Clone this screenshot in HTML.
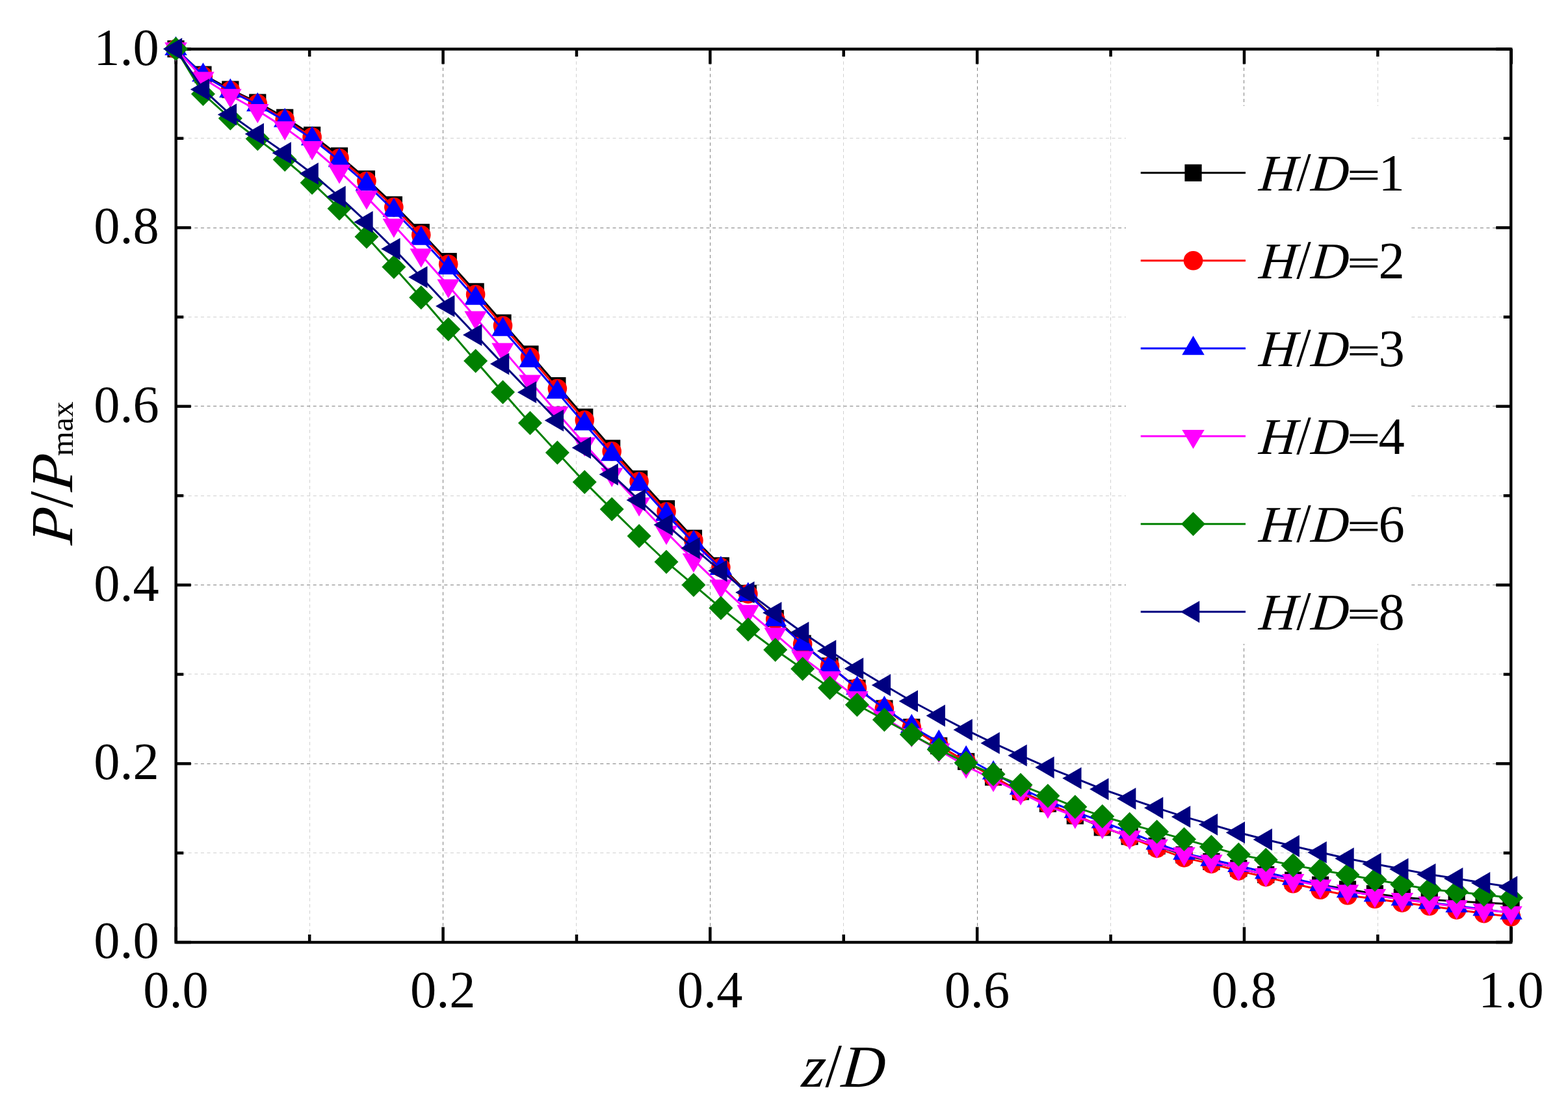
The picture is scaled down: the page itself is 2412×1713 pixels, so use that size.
<!DOCTYPE html>
<html lang="en"><head><meta charset="utf-8"><title>P/Pmax vs z/D</title>
<style>html,body{margin:0;padding:0;background:#fff;}body{width:2412px;height:1713px;overflow:hidden;}svg{display:block;}text,.t{font-family:"Liberation Serif","DejaVu Serif",serif;fill:#000;color:#000;}#c{position:relative;width:2412px;height:1713px;overflow:hidden;}.t{position:absolute;left:0;top:0;margin:0;white-space:nowrap;line-height:0;transform-origin:0 0;}.t i{display:inline-block;font-style:italic;transform-origin:0 0.3374em;transform:skewX(-5.5deg);}.l i{font-size:0.983em;}.t b{display:inline-block;font-weight:normal;transform-origin:0 0.3374em;transform:translateX(0.02em) scaleY(1.05);}.t u{display:inline-block;text-decoration:none;margin-right:0.035em;-webkit-text-stroke:1.3px #000;transform-origin:50% 0;transform:translate(0.03em,0.032em) scale(1.1,0.66);}.t sub{font-size:48.6px;vertical-align:baseline;position:relative;top:1px;margin-left:0px;}</style></head><body><div id="c">
<svg width="2412" height="1713" viewBox="0 0 2412 1713">
<rect x="0" y="0" width="2412" height="1713" fill="#fff"/>
<g fill="none" stroke-width="1" stroke-dasharray="5 4.6">
<line x1="476.5" y1="75.2" x2="476.5" y2="1448.8" stroke="#d0d0d0"/>
<line x1="270.5" y1="1311.5" x2="2324.5" y2="1311.5" stroke="#d0d0d0"/>
<line x1="681.5" y1="75.2" x2="681.5" y2="1448.8" stroke="#808080"/>
<line x1="270.5" y1="1174.5" x2="2324.5" y2="1174.5" stroke="#808080"/>
<line x1="886.5" y1="75.2" x2="886.5" y2="1448.8" stroke="#d0d0d0"/>
<line x1="270.5" y1="1036.5" x2="2324.5" y2="1036.5" stroke="#d0d0d0"/>
<line x1="1092.5" y1="75.2" x2="1092.5" y2="1448.8" stroke="#808080"/>
<line x1="270.5" y1="899.5" x2="2324.5" y2="899.5" stroke="#808080"/>
<line x1="1297.5" y1="75.2" x2="1297.5" y2="1448.8" stroke="#d0d0d0"/>
<line x1="270.5" y1="762.5" x2="2324.5" y2="762.5" stroke="#d0d0d0"/>
<line x1="1503.5" y1="75.2" x2="1503.5" y2="1448.8" stroke="#808080"/>
<line x1="270.5" y1="624.5" x2="2324.5" y2="624.5" stroke="#808080"/>
<line x1="1708.5" y1="75.2" x2="1708.5" y2="1448.8" stroke="#d0d0d0"/>
<line x1="270.5" y1="487.5" x2="2324.5" y2="487.5" stroke="#d0d0d0"/>
<line x1="1913.5" y1="75.2" x2="1913.5" y2="1448.8" stroke="#808080"/>
<line x1="270.5" y1="350.5" x2="2324.5" y2="350.5" stroke="#808080"/>
<line x1="2119.5" y1="75.2" x2="2119.5" y2="1448.8" stroke="#d0d0d0"/>
<line x1="270.5" y1="212.5" x2="2324.5" y2="212.5" stroke="#d0d0d0"/>
</g>
<rect x="1732" y="163" width="438" height="827" fill="#fff"/>
<g stroke="#000" fill="none" stroke-width="4.4" stroke-linecap="butt">
<rect x="270.65" y="75.5" width="2053.6" height="1373.5"/>
</g>
<g stroke="#000" stroke-width="4.5">
<line x1="270.75" y1="1448.8" x2="270.75" y2="1425.5"/>
<line x1="270.75" y1="75.2" x2="270.75" y2="98.5"/>
<line x1="270.5" y1="1449" x2="293.8" y2="1449"/>
<line x1="2324.5" y1="1449" x2="2301.2" y2="1449"/>
<line x1="476.15" y1="1448.8" x2="476.15" y2="1437"/>
<line x1="476.15" y1="75.2" x2="476.15" y2="87"/>
<line x1="270.5" y1="1311.64" x2="282.3" y2="1311.64"/>
<line x1="2324.5" y1="1311.64" x2="2312.7" y2="1311.64"/>
<line x1="681.55" y1="1448.8" x2="681.55" y2="1425.5"/>
<line x1="681.55" y1="75.2" x2="681.55" y2="98.5"/>
<line x1="270.5" y1="1174.28" x2="293.8" y2="1174.28"/>
<line x1="2324.5" y1="1174.28" x2="2301.2" y2="1174.28"/>
<line x1="886.95" y1="1448.8" x2="886.95" y2="1437"/>
<line x1="886.95" y1="75.2" x2="886.95" y2="87"/>
<line x1="270.5" y1="1036.92" x2="282.3" y2="1036.92"/>
<line x1="2324.5" y1="1036.92" x2="2312.7" y2="1036.92"/>
<line x1="1092.35" y1="1448.8" x2="1092.35" y2="1425.5"/>
<line x1="1092.35" y1="75.2" x2="1092.35" y2="98.5"/>
<line x1="270.5" y1="899.56" x2="293.8" y2="899.56"/>
<line x1="2324.5" y1="899.56" x2="2301.2" y2="899.56"/>
<line x1="1297.75" y1="1448.8" x2="1297.75" y2="1437"/>
<line x1="1297.75" y1="75.2" x2="1297.75" y2="87"/>
<line x1="270.5" y1="762.2" x2="282.3" y2="762.2"/>
<line x1="2324.5" y1="762.2" x2="2312.7" y2="762.2"/>
<line x1="1503.15" y1="1448.8" x2="1503.15" y2="1425.5"/>
<line x1="1503.15" y1="75.2" x2="1503.15" y2="98.5"/>
<line x1="270.5" y1="624.84" x2="293.8" y2="624.84"/>
<line x1="2324.5" y1="624.84" x2="2301.2" y2="624.84"/>
<line x1="1708.55" y1="1448.8" x2="1708.55" y2="1437"/>
<line x1="1708.55" y1="75.2" x2="1708.55" y2="87"/>
<line x1="270.5" y1="487.48" x2="282.3" y2="487.48"/>
<line x1="2324.5" y1="487.48" x2="2312.7" y2="487.48"/>
<line x1="1913.95" y1="1448.8" x2="1913.95" y2="1425.5"/>
<line x1="1913.95" y1="75.2" x2="1913.95" y2="98.5"/>
<line x1="270.5" y1="350.12" x2="293.8" y2="350.12"/>
<line x1="2324.5" y1="350.12" x2="2301.2" y2="350.12"/>
<line x1="2119.35" y1="1448.8" x2="2119.35" y2="1437"/>
<line x1="2119.35" y1="75.2" x2="2119.35" y2="87"/>
<line x1="270.5" y1="212.76" x2="282.3" y2="212.76"/>
<line x1="2324.5" y1="212.76" x2="2312.7" y2="212.76"/>
<line x1="2324.75" y1="1448.8" x2="2324.75" y2="1425.5"/>
<line x1="2324.75" y1="75.2" x2="2324.75" y2="98.5"/>
<line x1="270.5" y1="75.4" x2="293.8" y2="75.4"/>
<line x1="2324.5" y1="75.4" x2="2301.2" y2="75.4"/>
</g>
<g font-size="80.4">
<text x="270.5" y="1548.5" text-anchor="middle">0.0</text>
<text x="244.8" y="1473.1" text-anchor="end">0.0</text>
<text x="681.3" y="1548.5" text-anchor="middle">0.2</text>
<text x="244.8" y="1198.38" text-anchor="end">0.2</text>
<text x="1092.1" y="1548.5" text-anchor="middle">0.4</text>
<text x="244.8" y="923.66" text-anchor="end">0.4</text>
<text x="1502.9" y="1548.5" text-anchor="middle">0.6</text>
<text x="244.8" y="648.94" text-anchor="end">0.6</text>
<text x="1913.7" y="1548.5" text-anchor="middle">0.8</text>
<text x="244.8" y="374.22" text-anchor="end">0.8</text>
<text x="2324.5" y="1548.5" text-anchor="middle">1.0</text>
<text x="244.8" y="99.5" text-anchor="end">1.0</text>
</g>
<g fill="#000000" stroke="none">
<polyline points="270.5,75.2 312.42,114.7 354.34,137.6 396.26,157.6 438.17,180.8 480.09,207.8 522.01,239.7 563.93,275.3 605.85,314.9 647.77,357.3 689.68,402 731.6,448.4 773.52,496.5 815.44,544.5 857.36,593.1 899.28,641.4 941.19,689.4 983.11,736.5 1025.03,782.3 1066.95,827.7 1108.87,869.9 1150.79,912.5 1192.7,951 1234.62,989.6 1276.54,1024.2 1318.46,1058.3 1360.38,1089.6 1402.3,1118.3 1444.21,1146.8 1486.13,1171 1528.05,1195 1569.97,1217.2 1611.89,1235.8 1653.81,1254.4 1695.72,1272.3 1737.64,1286.2 1779.56,1300.8 1821.48,1314.5 1863.4,1324.9 1905.32,1335.2 1947.23,1345 1989.15,1353.6 2031.07,1360.7 2072.99,1367.5 2114.91,1374.2 2156.83,1379.7 2198.74,1383.2 2240.66,1385.9 2282.58,1388 2324.5,1390.3" fill="none" stroke="#000000" stroke-width="3" stroke-linejoin="round"/>
<rect x="257.4" y="62.1" width="26.2" height="26.2"/>
<rect x="299.32" y="101.6" width="26.2" height="26.2"/>
<rect x="341.24" y="124.5" width="26.2" height="26.2"/>
<rect x="383.16" y="144.5" width="26.2" height="26.2"/>
<rect x="425.07" y="167.7" width="26.2" height="26.2"/>
<rect x="466.99" y="194.7" width="26.2" height="26.2"/>
<rect x="508.91" y="226.6" width="26.2" height="26.2"/>
<rect x="550.83" y="262.2" width="26.2" height="26.2"/>
<rect x="592.75" y="301.8" width="26.2" height="26.2"/>
<rect x="634.67" y="344.2" width="26.2" height="26.2"/>
<rect x="676.58" y="388.9" width="26.2" height="26.2"/>
<rect x="718.5" y="435.3" width="26.2" height="26.2"/>
<rect x="760.42" y="483.4" width="26.2" height="26.2"/>
<rect x="802.34" y="531.4" width="26.2" height="26.2"/>
<rect x="844.26" y="580" width="26.2" height="26.2"/>
<rect x="886.18" y="628.3" width="26.2" height="26.2"/>
<rect x="928.09" y="676.3" width="26.2" height="26.2"/>
<rect x="970.01" y="723.4" width="26.2" height="26.2"/>
<rect x="1011.93" y="769.2" width="26.2" height="26.2"/>
<rect x="1053.85" y="814.6" width="26.2" height="26.2"/>
<rect x="1095.77" y="856.8" width="26.2" height="26.2"/>
<rect x="1137.69" y="899.4" width="26.2" height="26.2"/>
<rect x="1179.6" y="937.9" width="26.2" height="26.2"/>
<rect x="1221.52" y="976.5" width="26.2" height="26.2"/>
<rect x="1263.44" y="1011.1" width="26.2" height="26.2"/>
<rect x="1305.36" y="1045.2" width="26.2" height="26.2"/>
<rect x="1347.28" y="1076.5" width="26.2" height="26.2"/>
<rect x="1389.2" y="1105.2" width="26.2" height="26.2"/>
<rect x="1431.11" y="1133.7" width="26.2" height="26.2"/>
<rect x="1473.03" y="1157.9" width="26.2" height="26.2"/>
<rect x="1514.95" y="1181.9" width="26.2" height="26.2"/>
<rect x="1556.87" y="1204.1" width="26.2" height="26.2"/>
<rect x="1598.79" y="1222.7" width="26.2" height="26.2"/>
<rect x="1640.71" y="1241.3" width="26.2" height="26.2"/>
<rect x="1682.62" y="1259.2" width="26.2" height="26.2"/>
<rect x="1724.54" y="1273.1" width="26.2" height="26.2"/>
<rect x="1766.46" y="1287.7" width="26.2" height="26.2"/>
<rect x="1808.38" y="1301.4" width="26.2" height="26.2"/>
<rect x="1850.3" y="1311.8" width="26.2" height="26.2"/>
<rect x="1892.22" y="1322.1" width="26.2" height="26.2"/>
<rect x="1934.13" y="1331.9" width="26.2" height="26.2"/>
<rect x="1976.05" y="1340.5" width="26.2" height="26.2"/>
<rect x="2017.97" y="1347.6" width="26.2" height="26.2"/>
<rect x="2059.89" y="1354.4" width="26.2" height="26.2"/>
<rect x="2101.81" y="1361.1" width="26.2" height="26.2"/>
<rect x="2143.73" y="1366.6" width="26.2" height="26.2"/>
<rect x="2185.64" y="1370.1" width="26.2" height="26.2"/>
<rect x="2227.56" y="1372.8" width="26.2" height="26.2"/>
<rect x="2269.48" y="1374.9" width="26.2" height="26.2"/>
<rect x="2311.4" y="1377.2" width="26.2" height="26.2"/>
</g>
<g fill="#ff0000" stroke="none">
<polyline points="270.5,75.2 312.42,116.9 354.34,139.2 396.26,159.5 438.17,183.8 480.09,210.7 522.01,243.3 563.93,278.5 605.85,318.6 647.77,361.3 689.68,406.2 731.6,452.7 773.52,500.8 815.44,549 857.36,597.6 899.28,646.1 941.19,693.9 983.11,740.3 1025.03,786.7 1066.95,831.1 1108.87,872.6 1150.79,913.4 1192.7,952.5 1234.62,990.5 1276.54,1024.2 1318.46,1058.1 1360.38,1089.6 1402.3,1118.8 1444.21,1146.5 1486.13,1171 1528.05,1195 1569.97,1217.8 1611.89,1236 1653.81,1253.3 1695.72,1271.1 1737.64,1287.4 1779.56,1304.4 1821.48,1318.9 1863.4,1328.4 1905.32,1339.1 1947.23,1348.6 1989.15,1358.8 2031.07,1368.3 2072.99,1376.8 2114.91,1382.3 2156.83,1388.1 2198.74,1393.3 2240.66,1399.1 2282.58,1404.6 2324.5,1409.7" fill="none" stroke="#ff0000" stroke-width="3" stroke-linejoin="round"/>
<circle cx="270.5" cy="75.2" r="14.8"/>
<circle cx="312.42" cy="116.9" r="14.8"/>
<circle cx="354.34" cy="139.2" r="14.8"/>
<circle cx="396.26" cy="159.5" r="14.8"/>
<circle cx="438.17" cy="183.8" r="14.8"/>
<circle cx="480.09" cy="210.7" r="14.8"/>
<circle cx="522.01" cy="243.3" r="14.8"/>
<circle cx="563.93" cy="278.5" r="14.8"/>
<circle cx="605.85" cy="318.6" r="14.8"/>
<circle cx="647.77" cy="361.3" r="14.8"/>
<circle cx="689.68" cy="406.2" r="14.8"/>
<circle cx="731.6" cy="452.7" r="14.8"/>
<circle cx="773.52" cy="500.8" r="14.8"/>
<circle cx="815.44" cy="549" r="14.8"/>
<circle cx="857.36" cy="597.6" r="14.8"/>
<circle cx="899.28" cy="646.1" r="14.8"/>
<circle cx="941.19" cy="693.9" r="14.8"/>
<circle cx="983.11" cy="740.3" r="14.8"/>
<circle cx="1025.03" cy="786.7" r="14.8"/>
<circle cx="1066.95" cy="831.1" r="14.8"/>
<circle cx="1108.87" cy="872.6" r="14.8"/>
<circle cx="1150.79" cy="913.4" r="14.8"/>
<circle cx="1192.7" cy="952.5" r="14.8"/>
<circle cx="1234.62" cy="990.5" r="14.8"/>
<circle cx="1276.54" cy="1024.2" r="14.8"/>
<circle cx="1318.46" cy="1058.1" r="14.8"/>
<circle cx="1360.38" cy="1089.6" r="14.8"/>
<circle cx="1402.3" cy="1118.8" r="14.8"/>
<circle cx="1444.21" cy="1146.5" r="14.8"/>
<circle cx="1486.13" cy="1171" r="14.8"/>
<circle cx="1528.05" cy="1195" r="14.8"/>
<circle cx="1569.97" cy="1217.8" r="14.8"/>
<circle cx="1611.89" cy="1236" r="14.8"/>
<circle cx="1653.81" cy="1253.3" r="14.8"/>
<circle cx="1695.72" cy="1271.1" r="14.8"/>
<circle cx="1737.64" cy="1287.4" r="14.8"/>
<circle cx="1779.56" cy="1304.4" r="14.8"/>
<circle cx="1821.48" cy="1318.9" r="14.8"/>
<circle cx="1863.4" cy="1328.4" r="14.8"/>
<circle cx="1905.32" cy="1339.1" r="14.8"/>
<circle cx="1947.23" cy="1348.6" r="14.8"/>
<circle cx="1989.15" cy="1358.8" r="14.8"/>
<circle cx="2031.07" cy="1368.3" r="14.8"/>
<circle cx="2072.99" cy="1376.8" r="14.8"/>
<circle cx="2114.91" cy="1382.3" r="14.8"/>
<circle cx="2156.83" cy="1388.1" r="14.8"/>
<circle cx="2198.74" cy="1393.3" r="14.8"/>
<circle cx="2240.66" cy="1399.1" r="14.8"/>
<circle cx="2282.58" cy="1404.6" r="14.8"/>
<circle cx="2324.5" cy="1409.7" r="14.8"/>
</g>
<g fill="#0000ff" stroke="none">
<polyline points="270.5,75.2 312.42,115.7 354.34,140.1 396.26,161.4 438.17,185.6 480.09,213.5 522.01,246.8 563.93,283.2 605.85,323.7 647.77,366.9 689.68,412 731.6,458.9 773.52,506.8 815.44,554.8 857.36,603.2 899.28,651.9 941.19,698.9 983.11,744.8 1025.03,791.1 1066.95,834.3 1108.87,874.2 1150.79,914.4 1192.7,953 1234.62,990.5 1276.54,1024 1318.46,1058.4 1360.38,1089.2 1402.3,1117.2 1444.21,1141.2 1486.13,1165.6 1528.05,1188.5 1569.97,1212 1611.89,1231.7 1653.81,1248.2 1695.72,1263.7 1737.64,1279.5 1779.56,1296.6 1821.48,1312 1863.4,1321.8 1905.32,1331.2 1947.23,1341.5 1989.15,1350.9 2031.07,1360.4 2072.99,1370.4 2114.91,1376.7 2156.83,1382.6 2198.74,1387.8 2240.66,1393.1 2282.58,1398.3 2324.5,1403.8" fill="none" stroke="#0000ff" stroke-width="3" stroke-linejoin="round"/>
<path d="M270.5 55.7L287.75 85.1L253.25 85.1Z"/>
<path d="M312.42 96.2L329.67 125.6L295.17 125.6Z"/>
<path d="M354.34 120.6L371.59 150L337.09 150Z"/>
<path d="M396.26 141.9L413.51 171.3L379.01 171.3Z"/>
<path d="M438.17 166.1L455.42 195.5L420.92 195.5Z"/>
<path d="M480.09 194L497.34 223.4L462.84 223.4Z"/>
<path d="M522.01 227.3L539.26 256.7L504.76 256.7Z"/>
<path d="M563.93 263.7L581.18 293.1L546.68 293.1Z"/>
<path d="M605.85 304.2L623.1 333.6L588.6 333.6Z"/>
<path d="M647.77 347.4L665.02 376.8L630.52 376.8Z"/>
<path d="M689.68 392.5L706.93 421.9L672.43 421.9Z"/>
<path d="M731.6 439.4L748.85 468.8L714.35 468.8Z"/>
<path d="M773.52 487.3L790.77 516.7L756.27 516.7Z"/>
<path d="M815.44 535.3L832.69 564.7L798.19 564.7Z"/>
<path d="M857.36 583.7L874.61 613.1L840.11 613.1Z"/>
<path d="M899.28 632.4L916.53 661.8L882.03 661.8Z"/>
<path d="M941.19 679.4L958.44 708.8L923.94 708.8Z"/>
<path d="M983.11 725.3L1000.36 754.7L965.86 754.7Z"/>
<path d="M1025.03 771.6L1042.28 801L1007.78 801Z"/>
<path d="M1066.95 814.8L1084.2 844.2L1049.7 844.2Z"/>
<path d="M1108.87 854.7L1126.12 884.1L1091.62 884.1Z"/>
<path d="M1150.79 894.9L1168.04 924.3L1133.54 924.3Z"/>
<path d="M1192.7 933.5L1209.95 962.9L1175.45 962.9Z"/>
<path d="M1234.62 971L1251.87 1000.4L1217.37 1000.4Z"/>
<path d="M1276.54 1004.5L1293.79 1033.9L1259.29 1033.9Z"/>
<path d="M1318.46 1038.9L1335.71 1068.3L1301.21 1068.3Z"/>
<path d="M1360.38 1069.7L1377.63 1099.1L1343.13 1099.1Z"/>
<path d="M1402.3 1097.7L1419.55 1127.1L1385.05 1127.1Z"/>
<path d="M1444.21 1121.7L1461.46 1151.1L1426.96 1151.1Z"/>
<path d="M1486.13 1146.1L1503.38 1175.5L1468.88 1175.5Z"/>
<path d="M1528.05 1169L1545.3 1198.4L1510.8 1198.4Z"/>
<path d="M1569.97 1192.5L1587.22 1221.9L1552.72 1221.9Z"/>
<path d="M1611.89 1212.2L1629.14 1241.6L1594.64 1241.6Z"/>
<path d="M1653.81 1228.7L1671.06 1258.1L1636.56 1258.1Z"/>
<path d="M1695.72 1244.2L1712.97 1273.6L1678.47 1273.6Z"/>
<path d="M1737.64 1260L1754.89 1289.4L1720.39 1289.4Z"/>
<path d="M1779.56 1277.1L1796.81 1306.5L1762.31 1306.5Z"/>
<path d="M1821.48 1292.5L1838.73 1321.9L1804.23 1321.9Z"/>
<path d="M1863.4 1302.3L1880.65 1331.7L1846.15 1331.7Z"/>
<path d="M1905.32 1311.7L1922.57 1341.1L1888.07 1341.1Z"/>
<path d="M1947.23 1322L1964.48 1351.4L1929.98 1351.4Z"/>
<path d="M1989.15 1331.4L2006.4 1360.8L1971.9 1360.8Z"/>
<path d="M2031.07 1340.9L2048.32 1370.3L2013.82 1370.3Z"/>
<path d="M2072.99 1350.9L2090.24 1380.3L2055.74 1380.3Z"/>
<path d="M2114.91 1357.2L2132.16 1386.6L2097.66 1386.6Z"/>
<path d="M2156.83 1363.1L2174.08 1392.5L2139.58 1392.5Z"/>
<path d="M2198.74 1368.3L2215.99 1397.7L2181.49 1397.7Z"/>
<path d="M2240.66 1373.6L2257.91 1403L2223.41 1403Z"/>
<path d="M2282.58 1378.8L2299.83 1408.2L2265.33 1408.2Z"/>
<path d="M2324.5 1384.3L2341.75 1413.7L2307.25 1413.7Z"/>
</g>
<g fill="#ff00ff" stroke="none">
<polyline points="270.5,75.2 312.42,120.4 354.34,146.7 396.26,170 438.17,196.4 480.09,227 522.01,263.2 563.93,303.1 605.85,346.2 647.77,392.1 689.68,439.3 731.6,488.3 773.52,537.4 815.44,586.3 857.36,634.9 899.28,682.4 941.19,729.5 983.11,774.8 1025.03,818.5 1066.95,860.9 1108.87,901.1 1150.79,940.2 1192.7,975.2 1234.62,1011.1 1276.54,1042.2 1318.46,1072.9 1360.38,1103.7 1402.3,1129.7 1444.21,1153.2 1486.13,1178.1 1528.05,1198.6 1569.97,1218.9 1611.89,1239.6 1653.81,1255.2 1695.72,1271.1 1737.64,1287.2 1779.56,1300.6 1821.48,1312.7 1863.4,1324.1 1905.32,1335.5 1947.23,1344.8 1989.15,1353.9 2031.07,1362.3 2072.99,1370.5 2114.91,1376.8 2156.83,1383 2198.74,1388.5 2240.66,1394.2 2282.58,1399.4 2324.5,1403.3" fill="none" stroke="#ff00ff" stroke-width="3" stroke-linejoin="round"/>
<path d="M270.5 94.7L287.75 65.3L253.25 65.3Z"/>
<path d="M312.42 139.9L329.67 110.5L295.17 110.5Z"/>
<path d="M354.34 166.2L371.59 136.8L337.09 136.8Z"/>
<path d="M396.26 189.5L413.51 160.1L379.01 160.1Z"/>
<path d="M438.17 215.9L455.42 186.5L420.92 186.5Z"/>
<path d="M480.09 246.5L497.34 217.1L462.84 217.1Z"/>
<path d="M522.01 282.7L539.26 253.3L504.76 253.3Z"/>
<path d="M563.93 322.6L581.18 293.2L546.68 293.2Z"/>
<path d="M605.85 365.7L623.1 336.3L588.6 336.3Z"/>
<path d="M647.77 411.6L665.02 382.2L630.52 382.2Z"/>
<path d="M689.68 458.8L706.93 429.4L672.43 429.4Z"/>
<path d="M731.6 507.8L748.85 478.4L714.35 478.4Z"/>
<path d="M773.52 556.9L790.77 527.5L756.27 527.5Z"/>
<path d="M815.44 605.8L832.69 576.4L798.19 576.4Z"/>
<path d="M857.36 654.4L874.61 625L840.11 625Z"/>
<path d="M899.28 701.9L916.53 672.5L882.03 672.5Z"/>
<path d="M941.19 749L958.44 719.6L923.94 719.6Z"/>
<path d="M983.11 794.3L1000.36 764.9L965.86 764.9Z"/>
<path d="M1025.03 838L1042.28 808.6L1007.78 808.6Z"/>
<path d="M1066.95 880.4L1084.2 851L1049.7 851Z"/>
<path d="M1108.87 920.6L1126.12 891.2L1091.62 891.2Z"/>
<path d="M1150.79 959.7L1168.04 930.3L1133.54 930.3Z"/>
<path d="M1192.7 994.7L1209.95 965.3L1175.45 965.3Z"/>
<path d="M1234.62 1030.6L1251.87 1001.2L1217.37 1001.2Z"/>
<path d="M1276.54 1061.7L1293.79 1032.3L1259.29 1032.3Z"/>
<path d="M1318.46 1092.4L1335.71 1063L1301.21 1063Z"/>
<path d="M1360.38 1123.2L1377.63 1093.8L1343.13 1093.8Z"/>
<path d="M1402.3 1149.2L1419.55 1119.8L1385.05 1119.8Z"/>
<path d="M1444.21 1172.7L1461.46 1143.3L1426.96 1143.3Z"/>
<path d="M1486.13 1197.6L1503.38 1168.2L1468.88 1168.2Z"/>
<path d="M1528.05 1218.1L1545.3 1188.7L1510.8 1188.7Z"/>
<path d="M1569.97 1238.4L1587.22 1209L1552.72 1209Z"/>
<path d="M1611.89 1259.1L1629.14 1229.7L1594.64 1229.7Z"/>
<path d="M1653.81 1274.7L1671.06 1245.3L1636.56 1245.3Z"/>
<path d="M1695.72 1290.6L1712.97 1261.2L1678.47 1261.2Z"/>
<path d="M1737.64 1306.7L1754.89 1277.3L1720.39 1277.3Z"/>
<path d="M1779.56 1320.1L1796.81 1290.7L1762.31 1290.7Z"/>
<path d="M1821.48 1332.2L1838.73 1302.8L1804.23 1302.8Z"/>
<path d="M1863.4 1343.6L1880.65 1314.2L1846.15 1314.2Z"/>
<path d="M1905.32 1355L1922.57 1325.6L1888.07 1325.6Z"/>
<path d="M1947.23 1364.3L1964.48 1334.9L1929.98 1334.9Z"/>
<path d="M1989.15 1373.4L2006.4 1344L1971.9 1344Z"/>
<path d="M2031.07 1381.8L2048.32 1352.4L2013.82 1352.4Z"/>
<path d="M2072.99 1390L2090.24 1360.6L2055.74 1360.6Z"/>
<path d="M2114.91 1396.3L2132.16 1366.9L2097.66 1366.9Z"/>
<path d="M2156.83 1402.5L2174.08 1373.1L2139.58 1373.1Z"/>
<path d="M2198.74 1408L2215.99 1378.6L2181.49 1378.6Z"/>
<path d="M2240.66 1413.7L2257.91 1384.3L2223.41 1384.3Z"/>
<path d="M2282.58 1418.9L2299.83 1389.5L2265.33 1389.5Z"/>
<path d="M2324.5 1422.8L2341.75 1393.4L2307.25 1393.4Z"/>
</g>
<g fill="#008000" stroke="none">
<polyline points="270.5,75.2 312.42,144.4 354.34,182 396.26,213.6 438.17,245.5 480.09,280.9 522.01,320.7 563.93,363.9 605.85,410.5 647.77,457.4 689.68,506.3 731.6,554.9 773.52,603.1 815.44,650.5 857.36,695.9 899.28,741.3 941.19,783.1 983.11,824.2 1025.03,863.9 1066.95,899.4 1108.87,934.9 1150.79,968 1192.7,999.3 1234.62,1028.5 1276.54,1057.8 1318.46,1083.8 1360.38,1106.7 1402.3,1129.5 1444.21,1152.4 1486.13,1173 1528.05,1190.5 1569.97,1207.1 1611.89,1223.8 1653.81,1240.8 1695.72,1255.2 1737.64,1267.2 1779.56,1278.9 1821.48,1290.4 1863.4,1302.2 1905.32,1314.1 1947.23,1322.3 1989.15,1330.4 2031.07,1337.9 2072.99,1345.2 2114.91,1352.8 2156.83,1360 2198.74,1367.4 2240.66,1371.5 2282.58,1375.8 2324.5,1380.5" fill="none" stroke="#008000" stroke-width="3" stroke-linejoin="round"/>
<path d="M270.5 56.7L289 75.2L270.5 93.7L252 75.2Z"/>
<path d="M312.42 125.9L330.92 144.4L312.42 162.9L293.92 144.4Z"/>
<path d="M354.34 163.5L372.84 182L354.34 200.5L335.84 182Z"/>
<path d="M396.26 195.1L414.76 213.6L396.26 232.1L377.76 213.6Z"/>
<path d="M438.17 227L456.67 245.5L438.17 264L419.67 245.5Z"/>
<path d="M480.09 262.4L498.59 280.9L480.09 299.4L461.59 280.9Z"/>
<path d="M522.01 302.2L540.51 320.7L522.01 339.2L503.51 320.7Z"/>
<path d="M563.93 345.4L582.43 363.9L563.93 382.4L545.43 363.9Z"/>
<path d="M605.85 392L624.35 410.5L605.85 429L587.35 410.5Z"/>
<path d="M647.77 438.9L666.27 457.4L647.77 475.9L629.27 457.4Z"/>
<path d="M689.68 487.8L708.18 506.3L689.68 524.8L671.18 506.3Z"/>
<path d="M731.6 536.4L750.1 554.9L731.6 573.4L713.1 554.9Z"/>
<path d="M773.52 584.6L792.02 603.1L773.52 621.6L755.02 603.1Z"/>
<path d="M815.44 632L833.94 650.5L815.44 669L796.94 650.5Z"/>
<path d="M857.36 677.4L875.86 695.9L857.36 714.4L838.86 695.9Z"/>
<path d="M899.28 722.8L917.78 741.3L899.28 759.8L880.78 741.3Z"/>
<path d="M941.19 764.6L959.69 783.1L941.19 801.6L922.69 783.1Z"/>
<path d="M983.11 805.7L1001.61 824.2L983.11 842.7L964.61 824.2Z"/>
<path d="M1025.03 845.4L1043.53 863.9L1025.03 882.4L1006.53 863.9Z"/>
<path d="M1066.95 880.9L1085.45 899.4L1066.95 917.9L1048.45 899.4Z"/>
<path d="M1108.87 916.4L1127.37 934.9L1108.87 953.4L1090.37 934.9Z"/>
<path d="M1150.79 949.5L1169.29 968L1150.79 986.5L1132.29 968Z"/>
<path d="M1192.7 980.8L1211.2 999.3L1192.7 1017.8L1174.2 999.3Z"/>
<path d="M1234.62 1010L1253.12 1028.5L1234.62 1047L1216.12 1028.5Z"/>
<path d="M1276.54 1039.3L1295.04 1057.8L1276.54 1076.3L1258.04 1057.8Z"/>
<path d="M1318.46 1065.3L1336.96 1083.8L1318.46 1102.3L1299.96 1083.8Z"/>
<path d="M1360.38 1088.2L1378.88 1106.7L1360.38 1125.2L1341.88 1106.7Z"/>
<path d="M1402.3 1111L1420.8 1129.5L1402.3 1148L1383.8 1129.5Z"/>
<path d="M1444.21 1133.9L1462.71 1152.4L1444.21 1170.9L1425.71 1152.4Z"/>
<path d="M1486.13 1154.5L1504.63 1173L1486.13 1191.5L1467.63 1173Z"/>
<path d="M1528.05 1172L1546.55 1190.5L1528.05 1209L1509.55 1190.5Z"/>
<path d="M1569.97 1188.6L1588.47 1207.1L1569.97 1225.6L1551.47 1207.1Z"/>
<path d="M1611.89 1205.3L1630.39 1223.8L1611.89 1242.3L1593.39 1223.8Z"/>
<path d="M1653.81 1222.3L1672.31 1240.8L1653.81 1259.3L1635.31 1240.8Z"/>
<path d="M1695.72 1236.7L1714.22 1255.2L1695.72 1273.7L1677.22 1255.2Z"/>
<path d="M1737.64 1248.7L1756.14 1267.2L1737.64 1285.7L1719.14 1267.2Z"/>
<path d="M1779.56 1260.4L1798.06 1278.9L1779.56 1297.4L1761.06 1278.9Z"/>
<path d="M1821.48 1271.9L1839.98 1290.4L1821.48 1308.9L1802.98 1290.4Z"/>
<path d="M1863.4 1283.7L1881.9 1302.2L1863.4 1320.7L1844.9 1302.2Z"/>
<path d="M1905.32 1295.6L1923.82 1314.1L1905.32 1332.6L1886.82 1314.1Z"/>
<path d="M1947.23 1303.8L1965.73 1322.3L1947.23 1340.8L1928.73 1322.3Z"/>
<path d="M1989.15 1311.9L2007.65 1330.4L1989.15 1348.9L1970.65 1330.4Z"/>
<path d="M2031.07 1319.4L2049.57 1337.9L2031.07 1356.4L2012.57 1337.9Z"/>
<path d="M2072.99 1326.7L2091.49 1345.2L2072.99 1363.7L2054.49 1345.2Z"/>
<path d="M2114.91 1334.3L2133.41 1352.8L2114.91 1371.3L2096.41 1352.8Z"/>
<path d="M2156.83 1341.5L2175.33 1360L2156.83 1378.5L2138.33 1360Z"/>
<path d="M2198.74 1348.9L2217.24 1367.4L2198.74 1385.9L2180.24 1367.4Z"/>
<path d="M2240.66 1353L2259.16 1371.5L2240.66 1390L2222.16 1371.5Z"/>
<path d="M2282.58 1357.3L2301.08 1375.8L2282.58 1394.3L2264.08 1375.8Z"/>
<path d="M2324.5 1362L2343 1380.5L2324.5 1399L2306 1380.5Z"/>
</g>
<g fill="#000080" stroke="none">
<polyline points="270.5,75.2 312.42,137.6 354.34,176.2 396.26,206.1 438.17,235.2 480.09,267 522.01,302.6 563.93,341.4 605.85,382.8 647.77,426.2 689.68,470.7 731.6,515.1 773.52,559.6 815.44,603.2 857.36,646.6 899.28,688.5 941.19,729.5 983.11,769 1025.03,806.9 1066.95,842.8 1108.87,877.8 1150.79,910.9 1192.7,942.3 1234.62,972.8 1276.54,1000.9 1318.46,1028.2 1360.38,1053.5 1402.3,1078.2 1444.21,1100.5 1486.13,1122.3 1528.05,1142.7 1569.97,1161.7 1611.89,1180.1 1653.81,1196.7 1695.72,1213.5 1737.64,1228.1 1779.56,1242.3 1821.48,1255.9 1863.4,1267.9 1905.32,1280.2 1947.23,1291 1989.15,1301 2031.07,1310.7 2072.99,1320.2 2114.91,1328.5 2156.83,1336.5 2198.74,1344.6 2240.66,1351 2282.58,1357.7 2324.5,1364" fill="none" stroke="#000080" stroke-width="3" stroke-linejoin="round"/>
<path d="M250.9 75.2L280.2 58.3L280.2 92.1Z"/>
<path d="M292.82 137.6L322.12 120.7L322.12 154.5Z"/>
<path d="M334.74 176.2L364.04 159.3L364.04 193.1Z"/>
<path d="M376.66 206.1L405.96 189.2L405.96 223Z"/>
<path d="M418.57 235.2L447.87 218.3L447.87 252.1Z"/>
<path d="M460.49 267L489.79 250.1L489.79 283.9Z"/>
<path d="M502.41 302.6L531.71 285.7L531.71 319.5Z"/>
<path d="M544.33 341.4L573.63 324.5L573.63 358.3Z"/>
<path d="M586.25 382.8L615.55 365.9L615.55 399.7Z"/>
<path d="M628.17 426.2L657.47 409.3L657.47 443.1Z"/>
<path d="M670.08 470.7L699.38 453.8L699.38 487.6Z"/>
<path d="M712 515.1L741.3 498.2L741.3 532Z"/>
<path d="M753.92 559.6L783.22 542.7L783.22 576.5Z"/>
<path d="M795.84 603.2L825.14 586.3L825.14 620.1Z"/>
<path d="M837.76 646.6L867.06 629.7L867.06 663.5Z"/>
<path d="M879.68 688.5L908.98 671.6L908.98 705.4Z"/>
<path d="M921.59 729.5L950.89 712.6L950.89 746.4Z"/>
<path d="M963.51 769L992.81 752.1L992.81 785.9Z"/>
<path d="M1005.43 806.9L1034.73 790L1034.73 823.8Z"/>
<path d="M1047.35 842.8L1076.65 825.9L1076.65 859.7Z"/>
<path d="M1089.27 877.8L1118.57 860.9L1118.57 894.7Z"/>
<path d="M1131.19 910.9L1160.49 894L1160.49 927.8Z"/>
<path d="M1173.1 942.3L1202.4 925.4L1202.4 959.2Z"/>
<path d="M1215.02 972.8L1244.32 955.9L1244.32 989.7Z"/>
<path d="M1256.94 1000.9L1286.24 984L1286.24 1017.8Z"/>
<path d="M1298.86 1028.2L1328.16 1011.3L1328.16 1045.1Z"/>
<path d="M1340.78 1053.5L1370.08 1036.6L1370.08 1070.4Z"/>
<path d="M1382.7 1078.2L1412 1061.3L1412 1095.1Z"/>
<path d="M1424.61 1100.5L1453.91 1083.6L1453.91 1117.4Z"/>
<path d="M1466.53 1122.3L1495.83 1105.4L1495.83 1139.2Z"/>
<path d="M1508.45 1142.7L1537.75 1125.8L1537.75 1159.6Z"/>
<path d="M1550.37 1161.7L1579.67 1144.8L1579.67 1178.6Z"/>
<path d="M1592.29 1180.1L1621.59 1163.2L1621.59 1197Z"/>
<path d="M1634.21 1196.7L1663.51 1179.8L1663.51 1213.6Z"/>
<path d="M1676.12 1213.5L1705.42 1196.6L1705.42 1230.4Z"/>
<path d="M1718.04 1228.1L1747.34 1211.2L1747.34 1245Z"/>
<path d="M1759.96 1242.3L1789.26 1225.4L1789.26 1259.2Z"/>
<path d="M1801.88 1255.9L1831.18 1239L1831.18 1272.8Z"/>
<path d="M1843.8 1267.9L1873.1 1251L1873.1 1284.8Z"/>
<path d="M1885.72 1280.2L1915.02 1263.3L1915.02 1297.1Z"/>
<path d="M1927.63 1291L1956.93 1274.1L1956.93 1307.9Z"/>
<path d="M1969.55 1301L1998.85 1284.1L1998.85 1317.9Z"/>
<path d="M2011.47 1310.7L2040.77 1293.8L2040.77 1327.6Z"/>
<path d="M2053.39 1320.2L2082.69 1303.3L2082.69 1337.1Z"/>
<path d="M2095.31 1328.5L2124.61 1311.6L2124.61 1345.4Z"/>
<path d="M2137.23 1336.5L2166.53 1319.6L2166.53 1353.4Z"/>
<path d="M2179.14 1344.6L2208.44 1327.7L2208.44 1361.5Z"/>
<path d="M2221.06 1351L2250.36 1334.1L2250.36 1367.9Z"/>
<path d="M2262.98 1357.7L2292.28 1340.8L2292.28 1374.6Z"/>
<path d="M2304.9 1364L2334.2 1347.1L2334.2 1380.9Z"/>
</g>
<g fill="#000000"><line x1="1754.7" y1="265.8" x2="1916" y2="265.8" stroke="#000000" stroke-width="3"/><rect x="1822.4" y="252.7" width="26.2" height="26.2"/></g>
<g fill="#ff0000"><line x1="1754.7" y1="400.8" x2="1916" y2="400.8" stroke="#ff0000" stroke-width="3"/><circle cx="1835.5" cy="400.8" r="14.8"/></g>
<g fill="#0000ff"><line x1="1754.7" y1="535.8" x2="1916" y2="535.8" stroke="#0000ff" stroke-width="3"/><path d="M1835.5 516.3L1852.75 545.7L1818.25 545.7Z"/></g>
<g fill="#ff00ff"><line x1="1754.7" y1="670.8" x2="1916" y2="670.8" stroke="#ff00ff" stroke-width="3"/><path d="M1835.5 690.3L1852.75 660.9L1818.25 660.9Z"/></g>
<g fill="#008000"><line x1="1754.7" y1="805.8" x2="1916" y2="805.8" stroke="#008000" stroke-width="3"/><path d="M1835.5 787.3L1854 805.8L1835.5 824.3L1817 805.8Z"/></g>
<g fill="#000080"><line x1="1754.7" y1="940.8" x2="1916" y2="940.8" stroke="#000080" stroke-width="3"/><path d="M1815.9 940.8L1845.2 923.9L1845.2 957.7Z"/></g>
</svg>
<div class="t" style="font-size:91.7px;transform:translate(1232px,1639.76px)"><i>z</i><b>/</b><i>D</i></div>
<div class="t" style="font-size:91.7px;transform:translate(111.3px,838.7px) rotate(-90deg) translate(0,-30.94px)"><i>P</i><b>/</b><i>P</i><sub>max</sub></div>
<div class="t l" style="font-size:80.6px;transform:translate(1935.5px,266.21px)"><i>H</i><b>/</b><i>D</i><u>=</u>1</div>
<div class="t l" style="font-size:80.6px;transform:translate(1935.5px,401.21px)"><i>H</i><b>/</b><i>D</i><u>=</u>2</div>
<div class="t l" style="font-size:80.6px;transform:translate(1935.5px,536.21px)"><i>H</i><b>/</b><i>D</i><u>=</u>3</div>
<div class="t l" style="font-size:80.6px;transform:translate(1935.5px,671.21px)"><i>H</i><b>/</b><i>D</i><u>=</u>4</div>
<div class="t l" style="font-size:80.6px;transform:translate(1935.5px,806.21px)"><i>H</i><b>/</b><i>D</i><u>=</u>6</div>
<div class="t l" style="font-size:80.6px;transform:translate(1935.5px,941.21px)"><i>H</i><b>/</b><i>D</i><u>=</u>8</div>
</div></body></html>
